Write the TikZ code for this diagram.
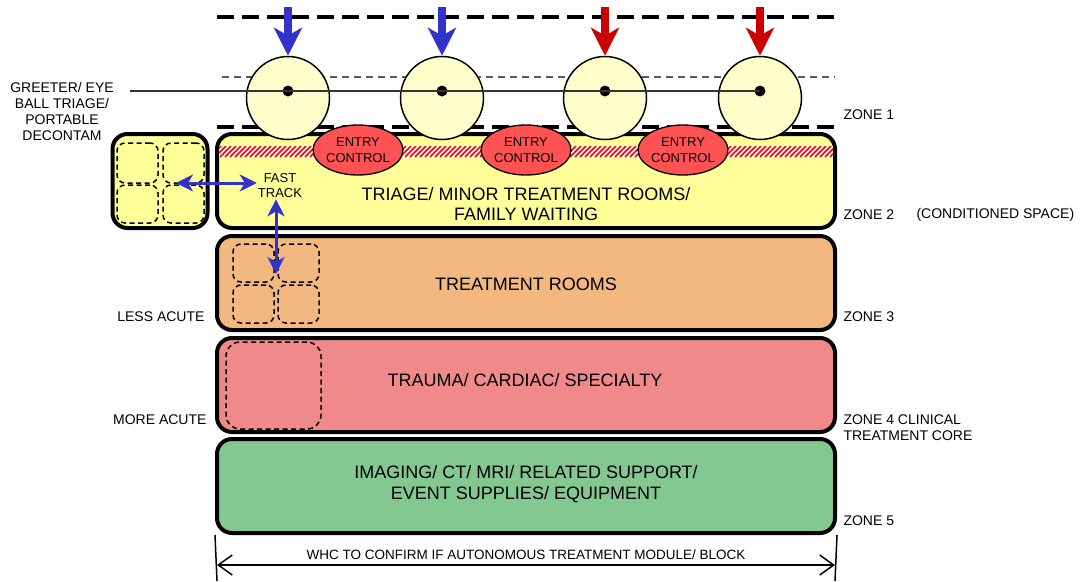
\documentclass[tikz,border=0pt]{standalone}
\usepackage{fontspec}
\setmainfont{Liberation Sans}
\usetikzlibrary{arrows.meta,shapes.geometric}

\definecolor{fillzonetwo}{RGB}{255,255,153}
\definecolor{fillzonethree}{RGB}{243,183,128}
\definecolor{fillzonefour}{RGB}{240,138,138}
\definecolor{fillzonefive}{RGB}{132,200,145}
\definecolor{fillstation}{RGB}{255,255,204}
\definecolor{fillentry}{RGB}{255,82,82}
\definecolor{flowblue}{RGB}{51,51,204}
\definecolor{flowred}{RGB}{204,0,0}
\definecolor{hatchred}{RGB}{255,0,0}

\tikzset{
  zonebox/.style={draw=black, line width=4pt, rounded corners=15pt, minimum width=618pt, minimum height=94pt, inner sep=0pt},
  roombox/.style={draw=black, line width=1.5pt, dash pattern=on 5pt off 3.5pt, rounded corners=8pt, inner sep=0pt},
  station/.style={circle, draw=black, line width=1.5pt, fill=fillstation, minimum size=83pt, inner sep=0pt},
  entrybox/.style={ellipse, draw=black, line width=1.3pt, fill=fillentry, minimum width=84pt, minimum height=50pt, inner sep=0pt, align=center, font=\fontsize{13}{15.5}\selectfont},
  bigtext/.style={align=center, font=\fontsize{18}{20.5}\selectfont},
  smalltext/.style={align=left, font=\fontsize{14}{16}\selectfont},
  zonerule/.style={line width=4pt, dash pattern=on 17pt off 8pt},
  inflow/.style={line width=8pt, -{Stealth[length=28pt,width=28pt,inset=8pt]}},
  ftarrow/.style={line width=3pt, draw=flowblue, {Stealth[length=17pt,width=17pt,inset=5pt]}-{Stealth[length=17pt,width=17pt,inset=5pt]}},
  dimline/.style={line width=1.5pt, {Straight Barb[length=14pt,width=20pt]}-{Straight Barb[length=14pt,width=20pt]}},
}

\begin{document}
\begin{tikzpicture}[x=1pt,y=-1pt]
\useasboundingbox (0,0) rectangle (1083,581);

% zone bands
\node[zonebox, fill=fillzonetwo] (z2) at (526,181) {};
\node[zonebox, fill=fillzonethree] (z3) at (526,283) {};
\node[zonebox, fill=fillzonefour] (z4) at (526,385) {};
\node[zonebox, fill=fillzonefive] (z5) at (526,486) {};

% red and white hatched strip along the top of zone 2
\begin{scope}
  \clip (219,146) rectangle (833,157);
  \fill[white] (219,146) rectangle (833,157);
  \foreach \i in {0,...,125} {
    \draw[hatchred, line width=1.7pt] (205+5*\i,157) -- (216+5*\i,146);
  }
\end{scope}

% fast track block beside zone 2
\node[zonebox, fill=fillzonetwo, minimum width=95pt, minimum height=94pt] (ftblock) at (160,181) {};
\node[roombox, minimum width=41pt, minimum height=40pt] (fa) at (137.5,163) {};
\node[roombox, minimum width=41pt, minimum height=40pt] (fb) at (183.5,163) {};
\node[roombox, minimum width=41pt, minimum height=38pt] (fc) at (137.5,204) {};
\node[roombox, minimum width=41pt, minimum height=38pt] (fd) at (183.5,204) {};

% treatment room outlines
\node[roombox, minimum width=41pt, minimum height=38pt] (ta) at (253.5,263) {};
\node[roombox, minimum width=41pt, minimum height=38pt] (tb) at (298.5,263) {};
\node[roombox, minimum width=41pt, minimum height=38pt] (tc) at (253.5,304) {};
\node[roombox, minimum width=41pt, minimum height=38pt] (td) at (298.5,304) {};
\node[roombox, rounded corners=14pt, minimum width=95pt, minimum height=87pt] (tr) at (273.5,385.5) {};

% entry zone rules
\draw[zonerule] (217,17) -- (835,17);
\draw[zonerule] (217,127) -- (835,127);
\draw[line width=1.5pt, draw=black!65, dash pattern=on 7pt off 5pt] (222,77) -- (835,77);

% greeter stations
\node[station] (c1) at (288,98) {};
\node[station] (c2) at (442,98) {};
\node[station] (c3) at (605,98) {};
\node[station] (c4) at (760,98) {};

\coordinate (lineend) at (130,91);
\fill (288,91) circle (5.5pt) coordinate (d1);
\fill (442,91) circle (5.5pt) coordinate (d2);
\fill (605,91) circle (5.5pt) coordinate (d3);
\fill (760,91) circle (5.5pt) coordinate (d4);
\draw[line width=1.1pt, draw=black!80] (lineend) -- (d4);

% arrivals
\coordinate (a1) at (288,7);
\coordinate (a2) at (442,7);
\coordinate (a3) at (605,7);
\coordinate (a4) at (760,7);
\draw[inflow, draw=flowblue, fill=flowblue] (a1) -- (c1.north);
\draw[inflow, draw=flowblue, fill=flowblue] (a2) -- (c2.north);
\draw[inflow, draw=flowred, fill=flowred] (a3) -- (c3.north);
\draw[inflow, draw=flowred, fill=flowred] (a4) -- (c4.north);

% entry control points
\node[entrybox] (e1) at (358,150) {ENTRY\\CONTROL};
\node[entrybox] (e2) at (526,150) {ENTRY\\CONTROL};
\node[entrybox] (e3) at (683,150) {ENTRY\\CONTROL};

% zone labels inside the bands
\node[bigtext] (l2) at (526,204) {TRIAGE/ MINOR TREATMENT ROOMS/\\FAMILY WAITING};
\node[bigtext] (l3) at (526,284) {TREATMENT ROOMS};
\node[bigtext] (l4) at (525,380) {TRAUMA/ CARDIAC/ SPECIALTY};
\node[bigtext] (l5) at (526,484) {IMAGING/ CT/ MRI/ RELATED SUPPORT/\\EVENT SUPPLIES/ EQUIPMENT};

% fast track
\node[align=center, inner sep=1pt, font=\fontsize{13}{15}\selectfont] (ft) at (280,186) {FAST\\TRACK};
\coordinate (ftl) at (176,183);
\coordinate (ftb) at (276,274);
\draw[ftarrow] (ftl) -- (ftl -| ft.west);
\draw[ftarrow] (ftb |- ft.south) -- (ftb);

% side labels
\node[align=center, font=\fontsize{14}{16}\selectfont] (greeter) at (62,111) {GREETER/ EYE\\BALL TRIAGE/\\PORTABLE\\DECONTAM};
\node[smalltext, anchor=east] (lessacute) at (208,317) {LESS ACUTE};
\node[smalltext, anchor=east] (moreacute) at (210,420) {MORE ACUTE};

\node[smalltext, anchor=west] (zn1) at (840,115) {ZONE 1};
\node[smalltext, anchor=west] (zn2) at (840,215) {ZONE 2};
\node[smalltext, anchor=west] (cond) at (913,215) {(CONDITIONED SPACE)};
\node[smalltext, anchor=west] (zn3) at (840,317) {ZONE 3};
\node[smalltext, anchor=west] (zn4) at (840,428) {ZONE 4 CLINICAL\\TREATMENT CORE};
\node[smalltext, anchor=west] (zn5) at (840,521) {ZONE 5};

% overall module width
\coordinate (dl) at (217,565);
\coordinate (dr) at (835,565);
\draw[line width=1.5pt] (z5.south west) -- (217,581);
\draw[line width=1.5pt] (z5.south east) -- (835,581);
\draw[dimline] (dl) -- (dr);
\node[font=\fontsize{13.5}{15}\selectfont] (dimtext) at (526,555) {WHC TO CONFIRM IF AUTONOMOUS TREATMENT MODULE/ BLOCK};
\end{tikzpicture}
\end{document}
